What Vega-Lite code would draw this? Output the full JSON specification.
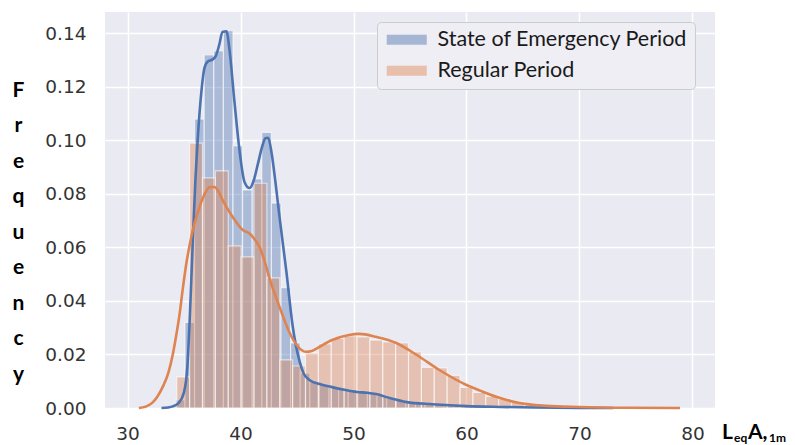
{
  "$schema": "https://vega.github.io/schema/vega-lite/v6.json",
  "width": 610,
  "height": 396,
  "autosize": {"type": "none"},
  "padding": {"left": 105, "top": 12, "right": 80, "bottom": 37},
  "background": "white",
  "config": {
    "view": {"fill": "#EAEAF2", "stroke": null},
    "axis": {"domain": false, "ticks": false, "gridColor": "white", "gridWidth": 1.5, "labelFont": "DejaVu Sans", "labelFontSize": 18.5, "labelColor": "#333333"},
    "axisX": {"labelPadding": 16},
    "axisY": {"labelPadding": 19,
      "titleAngle": 0, "titleFont": "Lato", "titleFontWeight": "bold",
      "titleFontSize": 21, "titleColor": "black", "titleLineHeight": 35.5, "titleAlign": "center", "titleBaseline": "top",
      "titleX": -87, "titleY": 67}
  },
  "datasets": {
    "hist": [
      {"period": "State of Emergency Period", "x0": 34.23, "x1": 35.08, "y": 0.003},
      {"period": "State of Emergency Period", "x0": 35.08, "x1": 35.93, "y": 0.032},
      {"period": "State of Emergency Period", "x0": 35.93, "x1": 36.78, "y": 0.108},
      {"period": "State of Emergency Period", "x0": 36.78, "x1": 37.63, "y": 0.132},
      {"period": "State of Emergency Period", "x0": 37.63, "x1": 38.48, "y": 0.1335},
      {"period": "State of Emergency Period", "x0": 38.48, "x1": 39.33, "y": 0.141},
      {"period": "State of Emergency Period", "x0": 39.33, "x1": 40.18, "y": 0.098},
      {"period": "State of Emergency Period", "x0": 40.18, "x1": 41.03, "y": 0.0815},
      {"period": "State of Emergency Period", "x0": 41.03, "x1": 41.88, "y": 0.0856},
      {"period": "State of Emergency Period", "x0": 41.88, "x1": 42.73, "y": 0.103},
      {"period": "State of Emergency Period", "x0": 42.73, "x1": 43.58, "y": 0.0766},
      {"period": "State of Emergency Period", "x0": 43.58, "x1": 44.43, "y": 0.045},
      {"period": "State of Emergency Period", "x0": 44.43, "x1": 45.28, "y": 0.0243},
      {"period": "State of Emergency Period", "x0": 45.28, "x1": 46.13, "y": 0.013},
      {"period": "State of Emergency Period", "x0": 46.13, "x1": 46.98, "y": 0.0098},
      {"period": "State of Emergency Period", "x0": 46.98, "x1": 47.83, "y": 0.0088},
      {"period": "State of Emergency Period", "x0": 47.83, "x1": 48.68, "y": 0.008},
      {"period": "State of Emergency Period", "x0": 48.68, "x1": 49.53, "y": 0.0072},
      {"period": "State of Emergency Period", "x0": 49.53, "x1": 50.38, "y": 0.0066},
      {"period": "State of Emergency Period", "x0": 50.38, "x1": 51.23, "y": 0.0062},
      {"period": "State of Emergency Period", "x0": 51.23, "x1": 52.08, "y": 0.0058},
      {"period": "State of Emergency Period", "x0": 52.08, "x1": 52.93, "y": 0.0048},
      {"period": "State of Emergency Period", "x0": 52.93, "x1": 53.78, "y": 0.0036},
      {"period": "State of Emergency Period", "x0": 53.78, "x1": 54.63, "y": 0.0028},
      {"period": "State of Emergency Period", "x0": 54.63, "x1": 55.48, "y": 0.0022},
      {"period": "State of Emergency Period", "x0": 55.48, "x1": 56.33, "y": 0.0018},
      {"period": "State of Emergency Period", "x0": 56.33, "x1": 57.18, "y": 0.0016},
      {"period": "State of Emergency Period", "x0": 57.18, "x1": 58.03, "y": 0.0013},
      {"period": "State of Emergency Period", "x0": 58.03, "x1": 58.88, "y": 0.0011},
      {"period": "State of Emergency Period", "x0": 58.88, "x1": 59.73, "y": 0.0009},
      {"period": "State of Emergency Period", "x0": 59.73, "x1": 60.58, "y": 0.0007},
      {"period": "State of Emergency Period", "x0": 60.58, "x1": 61.43, "y": 0.0006},
      {"period": "State of Emergency Period", "x0": 61.43, "x1": 62.28, "y": 0.0005},
      {"period": "State of Emergency Period", "x0": 62.28, "x1": 63.13, "y": 0.0004},
      {"period": "State of Emergency Period", "x0": 63.13, "x1": 63.98, "y": 0.0003},
      {"period": "State of Emergency Period", "x0": 63.98, "x1": 64.83, "y": 0.0002},
      {"period": "State of Emergency Period", "x0": 64.83, "x1": 65.68, "y": 0.0002},
      {"period": "State of Emergency Period", "x0": 65.68, "x1": 66.53, "y": 0.0001},
      {"period": "Regular Period", "x0": 34.35, "x1": 35.49, "y": 0.0116},
      {"period": "Regular Period", "x0": 35.49, "x1": 36.63, "y": 0.099},
      {"period": "Regular Period", "x0": 36.63, "x1": 37.77, "y": 0.086},
      {"period": "Regular Period", "x0": 37.77, "x1": 38.91, "y": 0.0886},
      {"period": "Regular Period", "x0": 38.91, "x1": 40.05, "y": 0.0606},
      {"period": "Regular Period", "x0": 40.05, "x1": 41.19, "y": 0.0565},
      {"period": "Regular Period", "x0": 41.19, "x1": 42.33, "y": 0.084},
      {"period": "Regular Period", "x0": 42.33, "x1": 43.47, "y": 0.0486},
      {"period": "Regular Period", "x0": 43.47, "x1": 44.61, "y": 0.018},
      {"period": "Regular Period", "x0": 44.61, "x1": 45.75, "y": 0.0157},
      {"period": "Regular Period", "x0": 45.75, "x1": 46.89, "y": 0.0205},
      {"period": "Regular Period", "x0": 46.89, "x1": 48.03, "y": 0.024},
      {"period": "Regular Period", "x0": 48.03, "x1": 49.17, "y": 0.026},
      {"period": "Regular Period", "x0": 49.17, "x1": 50.31, "y": 0.0269},
      {"period": "Regular Period", "x0": 50.31, "x1": 51.45, "y": 0.0266},
      {"period": "Regular Period", "x0": 51.45, "x1": 52.59, "y": 0.0254},
      {"period": "Regular Period", "x0": 52.59, "x1": 53.73, "y": 0.0247},
      {"period": "Regular Period", "x0": 53.73, "x1": 54.87, "y": 0.0243},
      {"period": "Regular Period", "x0": 54.87, "x1": 56.01, "y": 0.021},
      {"period": "Regular Period", "x0": 56.01, "x1": 57.15, "y": 0.0152},
      {"period": "Regular Period", "x0": 57.15, "x1": 58.29, "y": 0.015},
      {"period": "Regular Period", "x0": 58.29, "x1": 59.43, "y": 0.0122},
      {"period": "Regular Period", "x0": 59.43, "x1": 60.57, "y": 0.0077},
      {"period": "Regular Period", "x0": 60.57, "x1": 61.71, "y": 0.0058},
      {"period": "Regular Period", "x0": 61.71, "x1": 62.85, "y": 0.0043},
      {"period": "Regular Period", "x0": 62.85, "x1": 63.99, "y": 0.0035},
      {"period": "Regular Period", "x0": 63.99, "x1": 65.13, "y": 0.0022},
      {"period": "Regular Period", "x0": 65.13, "x1": 66.27, "y": 0.0015},
      {"period": "Regular Period", "x0": 66.27, "x1": 67.41, "y": 0.001},
      {"period": "Regular Period", "x0": 67.41, "x1": 68.55, "y": 0.0006},
      {"period": "Regular Period", "x0": 68.55, "x1": 69.69, "y": 0.0004},
      {"period": "Regular Period", "x0": 69.69, "x1": 70.83, "y": 0.0002},
      {"period": "Regular Period", "x0": 70.83, "x1": 71.97, "y": 0.0001}
    ],
    "kde": [
      {"period": "State of Emergency Period", "x": 33.0, "y": 0},
      {"period": "State of Emergency Period", "x": 33.6, "y": 0.0002},
      {"period": "State of Emergency Period", "x": 34.0, "y": 0.0006},
      {"period": "State of Emergency Period", "x": 34.5, "y": 0.0018},
      {"period": "State of Emergency Period", "x": 35.0, "y": 0.006},
      {"period": "State of Emergency Period", "x": 35.3, "y": 0.016},
      {"period": "State of Emergency Period", "x": 35.5, "y": 0.033},
      {"period": "State of Emergency Period", "x": 35.75, "y": 0.06},
      {"period": "State of Emergency Period", "x": 36.0, "y": 0.085},
      {"period": "State of Emergency Period", "x": 36.2, "y": 0.1},
      {"period": "State of Emergency Period", "x": 36.55, "y": 0.119},
      {"period": "State of Emergency Period", "x": 36.8, "y": 0.127},
      {"period": "State of Emergency Period", "x": 37.1, "y": 0.1295},
      {"period": "State of Emergency Period", "x": 37.5, "y": 0.1302},
      {"period": "State of Emergency Period", "x": 37.8, "y": 0.1315},
      {"period": "State of Emergency Period", "x": 38.1, "y": 0.1355},
      {"period": "State of Emergency Period", "x": 38.4, "y": 0.1405},
      {"period": "State of Emergency Period", "x": 38.75, "y": 0.1408},
      {"period": "State of Emergency Period", "x": 39.03, "y": 0.1335},
      {"period": "State of Emergency Period", "x": 39.47, "y": 0.114},
      {"period": "State of Emergency Period", "x": 39.9, "y": 0.0965},
      {"period": "State of Emergency Period", "x": 40.35, "y": 0.0845},
      {"period": "State of Emergency Period", "x": 40.8, "y": 0.0822},
      {"period": "State of Emergency Period", "x": 41.2, "y": 0.0855},
      {"period": "State of Emergency Period", "x": 41.55, "y": 0.0915},
      {"period": "State of Emergency Period", "x": 41.9, "y": 0.0975},
      {"period": "State of Emergency Period", "x": 42.2, "y": 0.1008},
      {"period": "State of Emergency Period", "x": 42.45, "y": 0.101},
      {"period": "State of Emergency Period", "x": 42.74, "y": 0.0955},
      {"period": "State of Emergency Period", "x": 43.1, "y": 0.084},
      {"period": "State of Emergency Period", "x": 43.45, "y": 0.0714},
      {"period": "State of Emergency Period", "x": 44.07, "y": 0.0505},
      {"period": "State of Emergency Period", "x": 44.6, "y": 0.031},
      {"period": "State of Emergency Period", "x": 45.22, "y": 0.0175},
      {"period": "State of Emergency Period", "x": 45.6, "y": 0.0128},
      {"period": "State of Emergency Period", "x": 46.1, "y": 0.0105},
      {"period": "State of Emergency Period", "x": 47.0, "y": 0.009},
      {"period": "State of Emergency Period", "x": 48.1, "y": 0.0078},
      {"period": "State of Emergency Period", "x": 49.2, "y": 0.0068},
      {"period": "State of Emergency Period", "x": 50.3, "y": 0.006},
      {"period": "State of Emergency Period", "x": 51.2, "y": 0.0057},
      {"period": "State of Emergency Period", "x": 52.0, "y": 0.0052},
      {"period": "State of Emergency Period", "x": 53.2, "y": 0.0037},
      {"period": "State of Emergency Period", "x": 54.7, "y": 0.0022},
      {"period": "State of Emergency Period", "x": 57.0, "y": 0.0014},
      {"period": "State of Emergency Period", "x": 60.0, "y": 0.0007},
      {"period": "State of Emergency Period", "x": 63.0, "y": 0.0004},
      {"period": "State of Emergency Period", "x": 66.0, "y": 0.0002},
      {"period": "State of Emergency Period", "x": 70.0, "y": 0.00005},
      {"period": "State of Emergency Period", "x": 73.0, "y": 0},
      {"period": "Regular Period", "x": 31.0, "y": 0},
      {"period": "Regular Period", "x": 31.6, "y": 0.0005},
      {"period": "Regular Period", "x": 32.2, "y": 0.002},
      {"period": "Regular Period", "x": 32.6, "y": 0.004},
      {"period": "Regular Period", "x": 33.1, "y": 0.0078},
      {"period": "Regular Period", "x": 33.6, "y": 0.013},
      {"period": "Regular Period", "x": 34.0, "y": 0.02},
      {"period": "Regular Period", "x": 34.3, "y": 0.027},
      {"period": "Regular Period", "x": 34.6, "y": 0.035},
      {"period": "Regular Period", "x": 34.9, "y": 0.045},
      {"period": "Regular Period", "x": 35.2, "y": 0.054},
      {"period": "Regular Period", "x": 35.5, "y": 0.061},
      {"period": "Regular Period", "x": 35.8, "y": 0.067},
      {"period": "Regular Period", "x": 36.4, "y": 0.0755},
      {"period": "Regular Period", "x": 36.8, "y": 0.0798},
      {"period": "Regular Period", "x": 37.25, "y": 0.0825},
      {"period": "Regular Period", "x": 37.7, "y": 0.0826},
      {"period": "Regular Period", "x": 38.0, "y": 0.0812},
      {"period": "Regular Period", "x": 38.4, "y": 0.0778},
      {"period": "Regular Period", "x": 39.3, "y": 0.0714},
      {"period": "Regular Period", "x": 40.2, "y": 0.0665},
      {"period": "Regular Period", "x": 40.8, "y": 0.0652},
      {"period": "Regular Period", "x": 41.1, "y": 0.0638},
      {"period": "Regular Period", "x": 41.7, "y": 0.06},
      {"period": "Regular Period", "x": 42.1, "y": 0.0553},
      {"period": "Regular Period", "x": 42.6, "y": 0.048},
      {"period": "Regular Period", "x": 43.45, "y": 0.0378},
      {"period": "Regular Period", "x": 44.3, "y": 0.0285},
      {"period": "Regular Period", "x": 45.2, "y": 0.0224},
      {"period": "Regular Period", "x": 45.8, "y": 0.021},
      {"period": "Regular Period", "x": 46.3, "y": 0.0213},
      {"period": "Regular Period", "x": 46.8, "y": 0.0224},
      {"period": "Regular Period", "x": 48.1, "y": 0.0254},
      {"period": "Regular Period", "x": 49.6, "y": 0.0273},
      {"period": "Regular Period", "x": 50.5, "y": 0.0277},
      {"period": "Regular Period", "x": 52.0, "y": 0.0266},
      {"period": "Regular Period", "x": 53.8, "y": 0.0243},
      {"period": "Regular Period", "x": 55.6, "y": 0.0198},
      {"period": "Regular Period", "x": 57.6, "y": 0.0142},
      {"period": "Regular Period", "x": 60.0, "y": 0.0086},
      {"period": "Regular Period", "x": 61.2, "y": 0.0065},
      {"period": "Regular Period", "x": 62.7, "y": 0.0041},
      {"period": "Regular Period", "x": 64.7, "y": 0.0019},
      {"period": "Regular Period", "x": 67.1, "y": 0.0008},
      {"period": "Regular Period", "x": 70.0, "y": 0.0004},
      {"period": "Regular Period", "x": 74.4, "y": 0.0001},
      {"period": "Regular Period", "x": 78.9, "y": 0}
    ]
  },
  "layer": [
    {
      "data": {"name": "hist"},
      "transform": [{"filter": "datum.period === 'State of Emergency Period'"}],
      "mark": {"type": "bar", "fillOpacity": 0.4, "stroke": "white", "strokeWidth": 1.2, "strokeOpacity": 0.6},
      "encoding": {
        "x": {"field": "x0", "type": "quantitative", "scale": {"domain": [28, 82], "nice": false, "zero": false}, "title": null,
          "axis": {"values": [30, 40, 50, 60, 70, 80]}},
        "x2": {"field": "x1"},
        "y": {"field": "y", "type": "quantitative", "scale": {"domain": [0, 0.148], "nice": false},
          "title": ["F", "r", "e", "q", "u", "e", "n", "c", "y"],
          "axis": {"values": [0, 0.02, 0.04, 0.06, 0.08, 0.1, 0.12, 0.14], "format": ".2f"}},
        "y2": {"datum": 0},
        "color": {"field": "period", "type": "nominal",
          "scale": {"domain": ["State of Emergency Period", "Regular Period"], "range": ["#4C72B0", "#DD8452"]},
          "legend": {"title": null, "orient": "none", "legendX": 272, "legendY": 10,
            "symbolType": "M-2,-0.5H2V0.5H-2Z", "symbolSize": 400, "symbolOpacity": 0.45, "symbolStrokeWidth": 0,
            "symbolOffset": 12, "labelOffset": 20, "labelFont": "Lato", "labelFontSize": 21.5, "labelColor": "#1a1a1a",
            "rowPadding": 8, "padding": 7, "fillColor": "#EEEEF4", "strokeColor": "#CCCCCC", "cornerRadius": 4, "labelLimit": 400}}
      }
    },
    {
      "data": {"name": "hist"},
      "transform": [{"filter": "datum.period === 'Regular Period'"}],
      "mark": {"type": "bar", "fillOpacity": 0.4, "stroke": "white", "strokeWidth": 1.2, "strokeOpacity": 0.6},
      "encoding": {
        "x": {"field": "x0", "type": "quantitative", "title": null},
        "x2": {"field": "x1"},
        "y": {"field": "y", "type": "quantitative", "title": ["F", "r", "e", "q", "u", "e", "n", "c", "y"]},
        "y2": {"datum": 0},
        "color": {"field": "period", "type": "nominal", "legend": null}
      }
    },
    {
      "data": {"name": "kde"},
      "transform": [{"filter": "datum.period === 'State of Emergency Period'"}],
      "mark": {"type": "line", "color": "#4C72B0", "strokeWidth": 2.6, "interpolate": "monotone"},
      "encoding": {
        "x": {"field": "x", "type": "quantitative", "title": null},
        "y": {"field": "y", "type": "quantitative", "title": ["F", "r", "e", "q", "u", "e", "n", "c", "y"]}
      }
    },
    {
      "data": {"name": "kde"},
      "transform": [{"filter": "datum.period === 'Regular Period'"}],
      "mark": {"type": "line", "color": "#DD8452", "strokeWidth": 2.6, "interpolate": "monotone"},
      "encoding": {
        "x": {"field": "x", "type": "quantitative", "title": null},
        "y": {"field": "y", "type": "quantitative", "title": ["F", "r", "e", "q", "u", "e", "n", "c", "y"]}
      }
    },
    {
      "data": {"values": [{}]},
      "mark": {"type": "text", "text": "L", "font": "Lato", "fontWeight": "bold", "fontSize": 21, "color": "black", "align": "left", "baseline": "alphabetic", "clip": false},
      "encoding": {"x": {"datum": 82.62, "type": "quantitative", "title": null}, "y": {"datum": -0.0116, "type": "quantitative", "title": ["F", "r", "e", "q", "u", "e", "n", "c", "y"]}}
    },
    {
      "data": {"values": [{}]},
      "mark": {"type": "text", "text": "eq", "font": "Lato", "fontWeight": "bold", "fontSize": 12, "color": "black", "align": "left", "baseline": "alphabetic", "clip": false},
      "encoding": {"x": {"datum": 83.68, "type": "quantitative", "title": null}, "y": {"datum": -0.0127, "type": "quantitative", "title": ["F", "r", "e", "q", "u", "e", "n", "c", "y"]}}
    },
    {
      "data": {"values": [{}]},
      "mark": {"type": "text", "text": "A,", "font": "Lato", "fontWeight": "bold", "fontSize": 21, "color": "black", "align": "left", "baseline": "alphabetic", "clip": false},
      "encoding": {"x": {"datum": 84.92, "type": "quantitative", "title": null}, "y": {"datum": -0.0116, "type": "quantitative", "title": ["F", "r", "e", "q", "u", "e", "n", "c", "y"]}}
    },
    {
      "data": {"values": [{}]},
      "mark": {"type": "text", "text": "1m", "font": "Lato", "fontWeight": "bold", "fontSize": 12, "color": "black", "align": "left", "baseline": "alphabetic", "clip": false},
      "encoding": {"x": {"datum": 86.78, "type": "quantitative", "title": null}, "y": {"datum": -0.0127, "type": "quantitative", "title": ["F", "r", "e", "q", "u", "e", "n", "c", "y"]}}
    }
  ]
}
